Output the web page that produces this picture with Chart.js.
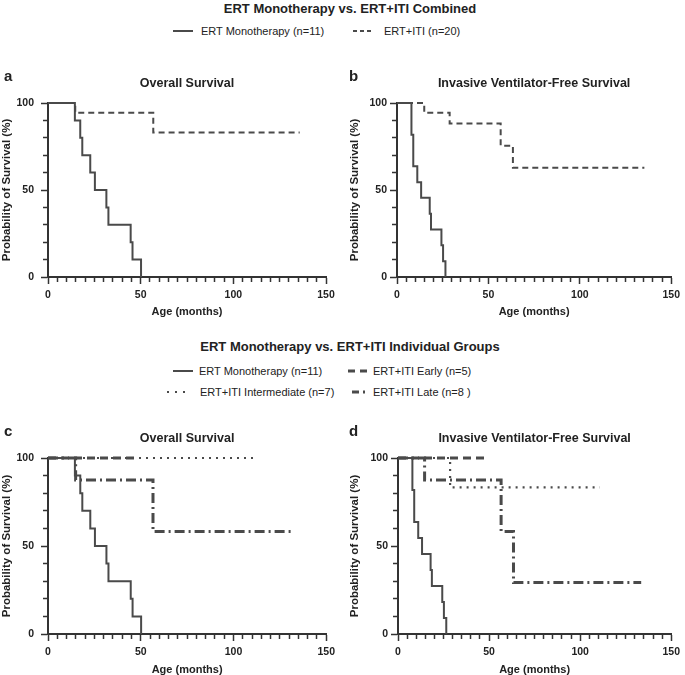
<!DOCTYPE html>
<html lang="en">
<head>
<meta charset="UTF-8">
<title>ERT Monotherapy vs. ERT+ITI</title>
<script src="https://cdn.jsdelivr.net/npm/chart.js"></script>
<style>
  body, html {
    margin: 0;
    width: 685px;
    height: 675px;
    overflow: hidden;
    background: #fff;
    font-family: "Liberation Sans", Arial, sans-serif;
    color: #222;
  }
  .heading {
    position: absolute;
    font-weight: bold;
    font-size: 13px;
    white-space: nowrap;
    transform: translate(-50%, -50%);
  }
  .item {
    position: absolute;
    font-size: 11px;
    white-space: nowrap;
    display: flex;
    align-items: center;
    transform: translateY(-50%);
  }
  canvas { position: absolute; }
</style>
</head>
<body>
  <div class="heading" style="left:350px; top:8px;">ERT Monotherapy vs. ERT+ITI Combined</div>
  <div class="item" style="left:173px; top:31px;">
    <svg width="20" height="4"><line x1="0" y1="2" x2="20" y2="2" stroke="#4a4a4a" stroke-width="2"/></svg>
    <span style="margin-left:8px">ERT Monotherapy (n=11)</span>
  </div>
  <div class="item" style="left:353px; top:31px;">
    <svg width="19" height="4"><line x1="0" y1="2" x2="19" y2="2" stroke="#4a4a4a" stroke-width="2" stroke-dasharray="4 3"/></svg>
    <span style="margin-left:12px">ERT+ITI (n=20)</span>
  </div>

  <div class="heading" style="left:350px; top:346px;">ERT Monotherapy vs. ERT+ITI Individual Groups</div>
  <div class="item" style="left:173px; top:371px;">
    <svg width="20" height="4"><line x1="0" y1="2" x2="20" y2="2" stroke="#4a4a4a" stroke-width="2"/></svg>
    <span style="margin-left:6px">ERT Monotherapy (n=11)</span>
  </div>
  <div class="item" style="left:348px; top:371px;">
    <svg width="19" height="4"><line x1="0" y1="2" x2="19" y2="2" stroke="#4a4a4a" stroke-width="3" stroke-dasharray="7 5"/></svg>
    <span style="margin-left:6px">ERT+ITI Early (n=5)</span>
  </div>
  <div class="item" style="left:167px; top:392px;">
    <svg width="19" height="4"><line x1="0" y1="2" x2="19" y2="2" stroke="#4a4a4a" stroke-width="2" stroke-dasharray="2 6"/></svg>
    <span style="margin-left:14px">ERT+ITI Intermediate (n=7)</span>
  </div>
  <div class="item" style="left:352px; top:392px;">
    <svg width="15" height="4"><line x1="0" y1="2" x2="15" y2="2" stroke="#4a4a4a" stroke-width="3" stroke-dasharray="7 4 2 4"/></svg>
    <span style="margin-left:6px">ERT+ITI Late (n=8 )</span>
  </div>

  <canvas id="panelA" width="340" height="259" style="left:0; top:60px;"></canvas>
  <canvas id="panelB" width="345" height="259" style="left:340px; top:60px;"></canvas>
  <canvas id="panelC" width="340" height="262" style="left:0; top:415px;"></canvas>
  <canvas id="panelD" width="345" height="262" style="left:340px; top:415px;"></canvas>

<script>
// ages in months, survival in %
const monoOsAge  = [0, 14.5, 17.4, 18.5, 22.8, 25.3, 31.5, 32.6, 44.6, 45.6, 50.2];
const monoOsProb = [100, 90, 80, 70, 60, 50, 40, 30, 20, 10, 0];
const itiOsAge   = [0, 14.7, 56.8, 135.8];
const itiOsProb  = [100, 94.4, 83.1, 83.1];

const monoVfsAge  = [0, 7.9, 8.9, 11.1, 13.2, 17.9, 18.6, 24.3, 25.2, 26.5];
const monoVfsProb = [100, 81.8, 63.6, 54.5, 45.5, 36.4, 27.3, 18.2, 9.1, 0];
const itiVfsAge   = [0, 14.9, 28.8, 56.7, 63.4, 135.3];
const itiVfsProb  = [100, 94.4, 88.2, 75.4, 62.8, 62.8];

const earlyOsAge  = [0, 48];
const earlyOsProb = [100, 100];
const interOsAge  = [0, 112.4];
const interOsProb = [100, 100];
const lateOsAge   = [0, 14.9, 56.6, 131.9];
const lateOsProb  = [100, 87.5, 58.3, 58.3];

const earlyVfsAge  = [0, 48];
const earlyVfsProb = [100, 100];
const interVfsAge  = [0, 28.6, 110.8];
const interVfsProb = [100, 83.3, 83.3];
const lateVfsAge   = [0, 14.6, 56.6, 63.4, 133.5];
const lateVfsProb  = [100, 87.5, 58.3, 29.2, 29.2];

const xTicks = [0, 50, 100, 150];
const yTicks = [0, 50, 100];

const lineColor = '#4a4a4a';
const axisColor = '#333';
const FONT = '"Liberation Sans", Arial, sans-serif';

Chart.defaults.font.family = FONT;
Chart.defaults.color = '#222';

const styles = {
  mono:  { borderWidth: 2, borderDash: [] },
  iti:   { borderWidth: 2, borderDash: [6, 4] },
  early: { borderWidth: 3, borderDash: [8, 5] },
  inter: { borderWidth: 2.2, borderDash: [2, 5] },
  late:  { borderWidth: 3, borderDash: [10, 4, 2, 4] }
};

function km(ages, probs, style) {
  return {
    data: ages.map((a, i) => ({ x: a, y: probs[i] })),
    borderColor: lineColor,
    borderWidth: styles[style].borderWidth,
    borderDash: styles[style].borderDash,
    borderCapStyle: 'butt',
    stepped: true,
    pointRadius: 0,
    fill: false,
    clip: false
  };
}

// panel letter + panel title above the plot area
const panelText = {
  id: 'panelText',
  afterDraw(chart, args, opts) {
    const { ctx, chartArea } = chart;
    ctx.save();
    ctx.fillStyle = '#222';
    ctx.textBaseline = 'middle';
    ctx.textAlign = 'left';
    ctx.font = 'bold 15px ' + FONT;
    ctx.fillText(opts.letter, opts.letterX, chartArea.top - 26);
    ctx.textAlign = 'center';
    ctx.font = 'bold 12.5px ' + FONT;
    ctx.fillText(opts.title, (chartArea.left + chartArea.right) / 2, chartArea.top - 19);
    ctx.restore();
  }
};

function makePanel(id, datasets, p) {
  new Chart(document.getElementById(id), {
    type: 'line',
    data: { datasets },
    options: {
      responsive: false,
      animation: false,
      layout: { padding: { top: 43, right: p.right, left: 0, bottom: 0 } },
      plugins: {
        legend: { display: false },
        tooltip: { enabled: false },
        panelText: { letter: p.letter, letterX: p.letterX, title: p.title }
      },
      scales: {
        x: {
          type: 'linear',
          min: 0, max: 150,
          afterFit: s => { s.height = p.xHeight; },
          ticks: {
            stepSize: 5,
            autoSkip: false,
            maxRotation: 0,
            padding: 5,
            font: { size: 10.5, weight: 'bold' },
            callback: v => xTicks.includes(v) ? String(v) : ''
          },
          grid: {
            drawOnChartArea: false,
            tickLength: 7,
            tickWidth: 1.5,
            tickColor: axisColor,
            tickBorderDash: c => xTicks.includes(c.tick.value) ? [] : [4, 20]
          },
          border: { color: axisColor, width: 2 },
          title: {
            display: true,
            text: 'Age (months)',
            font: { size: 11, weight: 'bold' },
            padding: { top: 0, bottom: 0 }
          }
        },
        y: {
          min: 0, max: 100,
          afterFit: s => { s.width = p.yWidth; },
          ticks: {
            stepSize: 10,
            autoSkip: false,
            padding: p.yPad,
            font: { size: 10.5, weight: 'bold' },
            callback: v => yTicks.includes(v) ? String(v) : ''
          },
          grid: {
            drawOnChartArea: false,
            tickLength: 7,
            tickWidth: 1.5,
            tickColor: axisColor,
            tickBorderDash: c => yTicks.includes(c.tick.value) ? [] : [0, 2, 4, 20]
          },
          border: { color: axisColor, width: 2 },
          title: {
            display: true,
            text: 'Probability of Survival (%)',
            font: { size: 11.5, weight: 'bold' },
            padding: { top: p.yTitlePad, bottom: 0 }
          }
        }
      }
    },
    plugins: [panelText]
  });
}

makePanel('panelA', [
  km(monoOsAge, monoOsProb, 'mono'),
  km(itiOsAge, itiOsProb, 'iti')
], { letter: 'a', letterX: 4, title: 'Overall Survival', right: 14, xHeight: 42, yWidth: 48, yPad: 7, yTitlePad: 0 });

makePanel('panelB', [
  km(monoVfsAge, monoVfsProb, 'mono'),
  km(itiVfsAge, itiVfsProb, 'iti')
], { letter: 'b', letterX: 9, title: 'Invasive Ventilator-Free Survival', right: 8, xHeight: 42, yWidth: 57, yPad: 3, yTitlePad: 8 });

makePanel('panelC', [
  km(monoOsAge, monoOsProb, 'mono'),
  km(earlyOsAge, earlyOsProb, 'early'),
  km(interOsAge, interOsProb, 'inter'),
  km(lateOsAge, lateOsProb, 'late')
], { letter: 'c', letterX: 4, title: 'Overall Survival', right: 12, xHeight: 43, yWidth: 48, yPad: 7, yTitlePad: 0 });

makePanel('panelD', [
  km(monoVfsAge, monoVfsProb, 'mono'),
  km(earlyVfsAge, earlyVfsProb, 'early'),
  km(interVfsAge, interVfsProb, 'inter'),
  km(lateVfsAge, lateVfsProb, 'late')
], { letter: 'd', letterX: 9, title: 'Invasive Ventilator-Free Survival', right: 9, xHeight: 43, yWidth: 58, yPad: 3, yTitlePad: 8 });
</script>
</body>
</html>
